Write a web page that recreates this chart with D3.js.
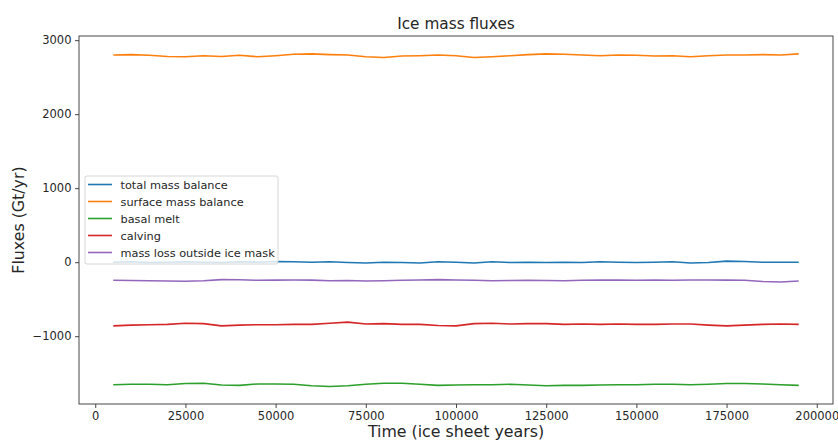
<!DOCTYPE html>
<html lang="en">
<head>
<meta charset="utf-8">
<title>Ice mass fluxes</title>
<script src="https://cdn.jsdelivr.net/npm/d3@7"></script>
<style>
  body { margin: 0; background: #fff; }
  text { font-family: "DejaVu Sans", sans-serif; fill: #262626; }
</style>
</head>
<body>
<script>
// time axis (ice sheet years), one sample every 5000 yr
var years = d3.range(5000, 195001, 5000);

var seriesNames = ["total mass balance", "surface mass balance", "basal melt", "calving", "mass loss outside ice mask"];
var seriesColors = ["#1f77b4", "#ff7f0e", "#2ca02c", "#d62728", "#9467bd"];

var totalMB = [0, 5, -5, 0, 5, 0, -5, 5, 0, 10, 5, 0, 5, -5, -10, 0, -5, -10, 5, 0,
  -10, 5, -5, 0, -5, 0, -5, 5, 0, -5, 0, 5, -10, -5, 15, 10, 0, 0, 0];
var surfaceMB = [2800, 2805, 2795, 2780, 2775, 2790, 2780, 2795, 2775, 2790, 2810, 2815, 2805, 2800, 2775, 2765, 2785, 2790, 2800, 2790,
  2765, 2775, 2790, 2805, 2815, 2810, 2800, 2790, 2800, 2795, 2785, 2790, 2775, 2790, 2800, 2800, 2805, 2800, 2815];
var basalMelt = [-1655, -1650, -1650, -1655, -1640, -1635, -1660, -1665, -1645, -1645, -1650, -1670, -1680, -1670, -1650, -1635, -1635, -1650, -1665, -1660,
  -1655, -1655, -1650, -1660, -1670, -1665, -1665, -1660, -1655, -1655, -1650, -1650, -1655, -1650, -1640, -1640, -1645, -1655, -1665];
var calving = [-860, -850, -845, -840, -825, -830, -860, -850, -845, -845, -840, -840, -825, -810, -835, -830, -840, -840, -855, -860,
  -830, -825, -835, -830, -830, -840, -835, -840, -835, -840, -840, -835, -835, -850, -860, -850, -840, -835, -840];
var massLossOutside = [-245, -248, -250, -255, -258, -250, -235, -238, -245, -242, -240, -242, -250, -248, -255, -250, -245, -240, -235, -240,
  -245, -250, -248, -245, -248, -250, -245, -242, -240, -245, -242, -245, -240, -240, -242, -245, -260, -268, -255];

var xTicks = [0, 25000, 50000, 75000, 100000, 125000, 150000, 175000, 200000];
var yTicks = [-1000, 0, 1000, 2000, 3000];

var allSeries = [totalMB, surfaceMB, basalMelt, calving, massLossOutside];

var w = 838, h = 441;
var margin = { top: 36, right: 5, bottom: 37, left: 79 };
var pw = w - margin.left - margin.right;
var ph = h - margin.top - margin.bottom;

var xScale = d3.scaleLinear().domain([-4500, 204500]).range([0, pw]);
var yScale = d3.scaleLinear().domain([-1916, 3056]).range([ph, 0]);

var svg = d3.select("body").append("svg")
  .attr("width", w)
  .attr("height", h);

var g = svg.append("g").attr("transform", "translate(" + margin.left + "," + margin.top + ")");

var fmt = function(d) { return d < 0 ? "\u2212" + Math.abs(d) : String(d); };

// axes
var xAxis = g.append("g")
  .attr("transform", "translate(0," + ph + ")")
  .call(d3.axisBottom(xScale).tickValues(xTicks).tickFormat(fmt).tickSize(4).tickPadding(3.5));
var yAxis = g.append("g")
  .call(d3.axisLeft(yScale).tickValues(yTicks).tickFormat(fmt).tickSize(4).tickPadding(3.5));
[xAxis, yAxis].forEach(function(a) {
  a.select(".domain").remove();
  a.selectAll("line").attr("stroke", "#333").attr("stroke-width", 0.9);
  a.selectAll("text").attr("font-size", "11.5px").attr("font-family", "DejaVu Sans").style("fill", "#262626");
});

// lines
var line = d3.line()
  .x(function(d, i) { return xScale(years[i]); })
  .y(function(d) { return yScale(d); });

allSeries.forEach(function(s, i) {
  g.append("path")
    .datum(s)
    .attr("fill", "none")
    .attr("stroke", seriesColors[i])
    .attr("stroke-width", 1.6)
    .attr("stroke-linejoin", "round")
    .attr("d", line);
});

// frame
g.append("rect")
  .attr("width", pw).attr("height", ph)
  .attr("fill", "none").attr("stroke", "#333").attr("stroke-width", 0.9);

// legend
var lg = g.append("g").attr("transform", "translate(6,140)");
lg.append("rect")
  .attr("width", 193).attr("height", 88).attr("rx", 2)
  .attr("fill", "#fff").attr("fill-opacity", 0.8)
  .attr("stroke", "#ccc").attr("stroke-width", 0.8);
seriesNames.forEach(function(name, i) {
  var yy = 8.5 + i * 17;
  lg.append("line")
    .attr("x1", 3).attr("x2", 27).attr("y1", yy).attr("y2", yy)
    .attr("stroke", seriesColors[i]).attr("stroke-width", 1.6);
  lg.append("text")
    .attr("x", 35.5).attr("y", yy + 4)
    .attr("font-size", "11.3px")
    .text(name);
});

// title and labels
svg.append("text")
  .attr("x", margin.left + pw / 2).attr("y", 29)
  .attr("text-anchor", "middle")
  .attr("font-size", "15.3px")
  .text("Ice mass fluxes");
svg.append("text")
  .attr("x", margin.left + pw / 2).attr("y", 436.5)
  .attr("text-anchor", "middle")
  .attr("font-size", "15.8px")
  .text("Time (ice sheet years)");
svg.append("text")
  .attr("transform", "translate(24," + (margin.top + ph / 2) + ") rotate(-90)")
  .attr("text-anchor", "middle")
  .attr("font-size", "15.8px")
  .text("Fluxes (Gt/yr)");
</script>
</body>
</html>
